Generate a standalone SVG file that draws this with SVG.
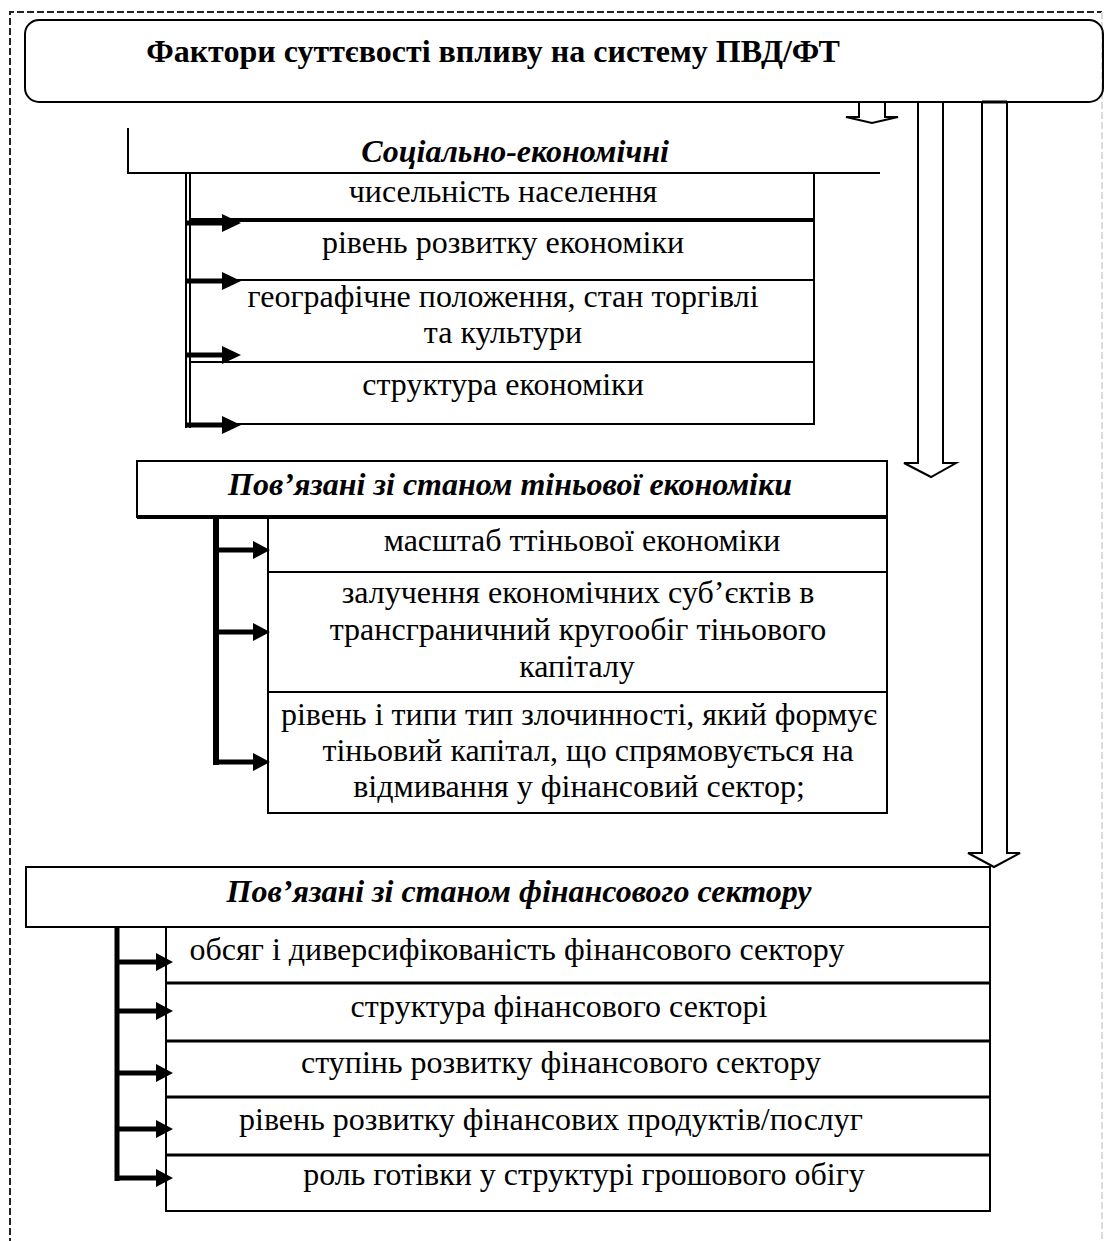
<svg xmlns="http://www.w3.org/2000/svg" width="1104" height="1241" viewBox="0 0 1104 1241">
<style>
text{font-family:"Liberation Serif","Times New Roman",serif;font-size:32px;fill:#000;text-anchor:middle}
.t{font-weight:bold}
.h{font-weight:bold;font-style:italic}
.box{fill:none;stroke:#000;stroke-width:2}
.sep{stroke:#000;stroke-width:2;fill:none}
.bar{stroke:#000;fill:none}
.blk{fill:#fff;stroke:#000;stroke-width:2;stroke-linejoin:miter}
.ah{fill:#000;stroke:none}
</style>
<rect width="1104" height="1241" fill="#fff"/>
<g id="frame">
<path d="M10,1245 V12 H1102" fill="none" stroke="#222" stroke-width="2" stroke-dasharray="7,3"/>
<path d="M1102,12 V1245" fill="none" stroke="#ddd" stroke-width="2" stroke-dasharray="7,3"/>
</g>
<g id="title">
<rect x="25" y="20" width="1078" height="82" rx="14" ry="14" class="box"/>
<text x="493" y="62" class="t">Фактори суттєвості впливу на систему ПВД/ФТ</text>
</g>
<g id="social">
<path d="M128,128 V173 H880" class="sep"/>
<text x="515" y="162" class="h">Соціально-економічні</text>
<path d="M190,173 H814 V424 H190" class="box"/>
<line x1="190" y1="220" x2="814" y2="220" stroke="#000" stroke-width="4"/>
<line x1="190" y1="280" x2="814" y2="280" class="sep"/>
<line x1="190" y1="362" x2="814" y2="362" class="sep"/>
<text x="503" y="202">чисельність населення</text>
<text x="503" y="253">рівень розвитку економіки</text>
<text x="503" y="307">географічне положення, стан торгівлі</text>
<text x="503" y="343">та культури</text>
<text x="503" y="395">структура економіки</text>
</g>
<g id="shadow">
<rect x="137" y="461" width="750" height="56" class="box"/>
<line x1="137" y1="517" x2="887" y2="517" stroke="#000" stroke-width="4"/>
<text x="510" y="495" class="h">Пов’язані зі станом тіньової економіки</text>
<rect x="268" y="517" width="619" height="296" class="box"/>
<line x1="268" y1="572" x2="887" y2="572" class="sep"/>
<line x1="268" y1="692" x2="887" y2="692" class="sep"/>
<text x="582" y="551">масштаб ттіньової економіки</text>
<text x="578" y="603">залучення економічних суб’єктів в</text>
<text x="578" y="640">трансграничний кругообіг тіньового</text>
<text x="577" y="677">капіталу</text>
<text x="579" y="725">рівень і типи тип злочинності, який формує</text>
<text x="588" y="761">тіньовий капітал, що спрямовується на</text>
<text x="579" y="797">відмивання у фінансовий сектор;</text>
</g>
<g id="finance">
<rect x="26" y="867" width="964" height="60" class="box"/>
<text x="519" y="902" class="h">Пов’язані зі станом фінансового сектору</text>
<rect x="166" y="927" width="824" height="284" class="box"/>
<path d="M166,983 H990 M166,1041 H990 M166,1097 H990 M166,1155 H990" stroke="#000" stroke-width="3" fill="none"/>
<text x="517" y="960">обсяг і диверсифікованість фінансового сектору</text>
<text x="559" y="1017">структура фінансового секторі</text>
<text x="561" y="1073">ступінь розвитку фінансового сектору</text>
<text x="551" y="1130">рівень розвитку фінансових продуктів/послуг</text>
<text x="584" y="1185">роль готівки у структурі грошового обігу</text>
</g>
<g id="connectors">
<polygon class="blk" points="859,102 885,102 885,117 898,117 872,123 846,117 859,117"/>
<polygon class="blk" points="918,102 943,102 943,463 956,463 931,477 904,463 918,463"/>
<polygon class="blk" points="982,102 1007,102 1007,853 1020,853 994,867 968,853 982,853"/>
<line x1="982" y1="102" x2="1007" y2="102" stroke="#000" stroke-width="3"/>
<g id="social-links">
<line x1="186" y1="173" x2="186" y2="428" stroke="#000" stroke-width="2"/>
<line x1="190" y1="173" x2="190" y2="428" stroke="#000" stroke-width="2"/>
<path d="M185,223 H224 M185,281 H224 M185,355 H224 M185,425 H224" class="bar" stroke-width="5"/>
<path class="ah" d="M222,214 L241,223 L222,232 Z M222,272 L241,281 L222,290 Z M222,346 L241,355 L222,364 Z M222,416 L241,425 L222,434 Z"/>
</g>
<g id="shadow-links">
<line x1="216" y1="517" x2="216" y2="765" stroke="#000" stroke-width="6"/>
<path d="M213,550 H255 M213,632 H255 M213,762 H255" class="bar" stroke-width="5"/>
<path class="ah" d="M253,541 L270,550 L253,559 Z M253,623 L270,632 L253,641 Z M253,753 L270,762 L253,771 Z"/>
</g>
<g id="finance-links">
<line x1="117" y1="927" x2="117" y2="1181" stroke="#000" stroke-width="5"/>
<path d="M115,962 H158 M115,1011 H158 M115,1073 H158 M115,1129 H158 M115,1178 H158" class="bar" stroke-width="5"/>
<path class="ah" d="M156,953 L173,962 L156,971 Z M156,1002 L173,1011 L156,1020 Z M156,1064 L173,1073 L156,1082 Z M156,1120 L173,1129 L156,1138 Z M156,1169 L173,1178 L156,1187 Z"/>
</g>
</g>
</svg>
